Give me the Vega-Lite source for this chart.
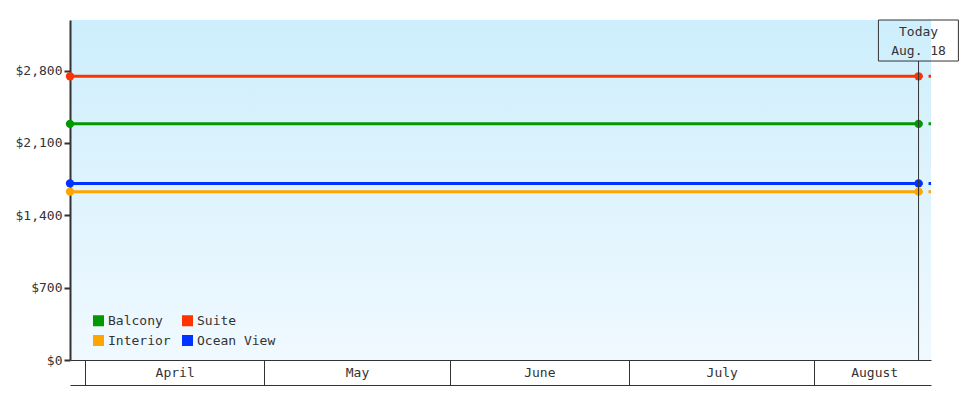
{
  "$schema": "https://vega.github.io/schema/vega-lite/v6.json",
  "width": 861,
  "height": 340,
  "autosize": {"type": "none"},
  "padding": {"left": 70, "top": 20, "right": 49, "bottom": 40},
  "background": "white",
  "datasets": {
    "prices": [
      {"type": "Suite", "date": "2025-03-29T12:00:00Z", "price": 2745, "part": "past"},
      {"type": "Suite", "date": "2025-08-18T10:00:00Z", "price": 2745, "part": "past"},
      {"type": "Balcony", "date": "2025-03-29T12:00:00Z", "price": 2285, "part": "past"},
      {"type": "Balcony", "date": "2025-08-18T10:00:00Z", "price": 2285, "part": "past"},
      {"type": "Ocean View", "date": "2025-03-29T12:00:00Z", "price": 1709, "part": "past"},
      {"type": "Ocean View", "date": "2025-08-18T10:00:00Z", "price": 1709, "part": "past"},
      {"type": "Interior", "date": "2025-03-29T12:00:00Z", "price": 1629, "part": "past"},
      {"type": "Interior", "date": "2025-08-18T10:00:00Z", "price": 1629, "part": "past"},
      {"type": "Suite", "date": "2025-08-18T10:00:00Z", "price": 2745, "part": "future"},
      {"type": "Suite", "date": "2025-08-20T12:00:00Z", "price": 2745, "part": "future"},
      {"type": "Balcony", "date": "2025-08-18T10:00:00Z", "price": 2285, "part": "future"},
      {"type": "Balcony", "date": "2025-08-20T12:00:00Z", "price": 2285, "part": "future"},
      {"type": "Ocean View", "date": "2025-08-18T10:00:00Z", "price": 1709, "part": "future"},
      {"type": "Ocean View", "date": "2025-08-20T12:00:00Z", "price": 1709, "part": "future"},
      {"type": "Interior", "date": "2025-08-18T10:00:00Z", "price": 1629, "part": "future"},
      {"type": "Interior", "date": "2025-08-20T12:00:00Z", "price": 1629, "part": "future"},
      {"type": "Today", "date": "2025-08-18T10:00:00Z", "price": 0, "part": "today"}
    ]
  },
  "data": {"name": "prices"},
  "encoding": {
    "x": {
      "field": "date",
      "type": "temporal",
      "scale": {
        "type": "utc",
        "domain": [
          {"year": 2025, "month": 3, "date": 29, "hours": 12, "utc": true},
          {"year": 2025, "month": 8, "date": 20, "hours": 12, "utc": true}
        ]
      }
    },
    "y": {
      "field": "price",
      "type": "quantitative",
      "scale": {"domain": [0, 3290], "nice": false},
      "axis": {
        "title": null,
        "values": [0, 700, 1400, 2100, 2800],
        "format": "$,d",
        "grid": false,
        "domainColor": "#333",
        "domainWidth": 2,
        "tickColor": "#333",
        "tickWidth": 2,
        "tickSize": 6,
        "labelPadding": 2
      }
    },
    "color": {
      "field": "type",
      "type": "nominal",
      "scale": {
        "domain": ["Balcony", "Interior", "Suite", "Ocean View"],
        "range": ["#009900", "#ffa500", "#ff3300", "#0033ff"]
      },
      "legend": {
        "title": null,
        "orient": "none",
        "legendX": 22,
        "legendY": 294,
        "columns": 2,
        "symbolType": "square",
        "symbolSize": 121,
        "symbolStrokeWidth": 0,
        "labelOffset": 3,
        "columnPadding": 10,
        "rowPadding": 6
      }
    }
  },
  "layer": [
    {
      "transform": [{"filter": "datum.part == 'past'"}],
      "mark": {"type": "line", "strokeWidth": 3},
      "encoding": {
        "x": {
          "field": "date",
          "type": "temporal",
          "axis": {
            "orient": "bottom",
            "title": null,
            "values": [
              {"year": 2025, "month": 4, "date": 1, "utc": true},
              {"year": 2025, "month": 5, "date": 1, "utc": true},
              {"year": 2025, "month": 6, "date": 1, "utc": true},
              {"year": 2025, "month": 7, "date": 1, "utc": true},
              {"year": 2025, "month": 8, "date": 1, "utc": true}
            ],
            "labels": false,
            "grid": false,
            "domainColor": "#333",
            "tickColor": "#333",
            "tickSize": 25
          }
        }
      }
    },
    {
      "transform": [{"filter": "datum.part == 'future'"}],
      "mark": {"type": "line", "strokeWidth": 3, "strokeDash": [4, 6]},
      "encoding": {
        "x": {
          "field": "date",
          "type": "temporal",
          "axis": {
            "orient": "bottom",
            "title": null,
            "offset": 25,
            "labels": false,
            "ticks": false,
            "grid": false,
            "domainColor": "#333"
          }
        }
      }
    },
    {
      "transform": [{"filter": "datum.part == 'past'"}],
      "mark": {"type": "point", "filled": true, "size": 70, "opacity": 1},
      "encoding": {
        "x": {
          "field": "date",
          "type": "temporal",
          "axis": {
            "orient": "bottom",
            "title": null,
            "values": [
              {"year": 2025, "month": 4, "date": 16, "utc": true},
              {"year": 2025, "month": 5, "date": 16, "hours": 12, "utc": true},
              {"year": 2025, "month": 6, "date": 16, "utc": true},
              {"year": 2025, "month": 7, "date": 16, "hours": 12, "utc": true},
              {"year": 2025, "month": 8, "date": 11, "utc": true}
            ],
            "labelExpr": "utcFormat(datum.value, '%B')",
            "ticks": false,
            "domain": false,
            "grid": false,
            "labelPadding": 6
          }
        }
      }
    },
    {
      "transform": [{"filter": "datum.part == 'today'"}],
      "mark": {"type": "rule", "color": "#333", "strokeWidth": 1},
      "encoding": {
        "x": {"field": "date", "type": "temporal", "axis": null},
        "y": {"datum": 2893},
        "y2": {"datum": 0},
        "color": {"value": "#333"}
      }
    },
    {
      "transform": [{"filter": "datum.part == 'today'"}],
      "mark": {"type": "rect", "fill": "transparent", "stroke": "#333", "strokeWidth": 1},
      "encoding": {
        "x": {"datum": {"year": 2025, "month": 8, "date": 11, "hours": 17, "utc": true}, "type": "temporal", "axis": null},
        "x2": {"datum": {"year": 2025, "month": 8, "date": 25, "hours": 2, "utc": true}},
        "y": {"datum": 3290},
        "y2": {"datum": 2893},
        "color": {"value": "transparent"}
      }
    },
    {
      "transform": [{"filter": "datum.part == 'today'"}],
      "mark": {"type": "text", "baseline": "top", "align": "center", "dy": 6, "lineHeight": 19, "fontSize": 13, "fontWeight": "normal", "font": "DejaVu Sans Mono"},
      "encoding": {
        "x": {"field": "date", "type": "temporal", "axis": null},
        "y": {"datum": 3290},
        "text": {"value": ["Today", "Aug. 18"]},
        "color": {"value": "#333"}
      }
    }
  ],
  "resolve": {"axis": {"x": "independent"}},
  "config": {
    "font": "DejaVu Sans Mono",
    "view": {
      "stroke": null,
      "fill": {
        "gradient": "linear",
        "x1": 0, "y1": 0, "x2": 0, "y2": 1,
        "stops": [
          {"offset": 0, "color": "#cdeefc"},
          {"offset": 1, "color": "#f0f9ff"}
        ]
      }
    },
    "axis": {
      "labelFont": "DejaVu Sans Mono",
      "labelFontSize": 13,
      "labelColor": "#333"
    },
    "legend": {
      "labelFont": "DejaVu Sans Mono",
      "labelFontSize": 13,
      "labelColor": "#333"
    }
  }
}
